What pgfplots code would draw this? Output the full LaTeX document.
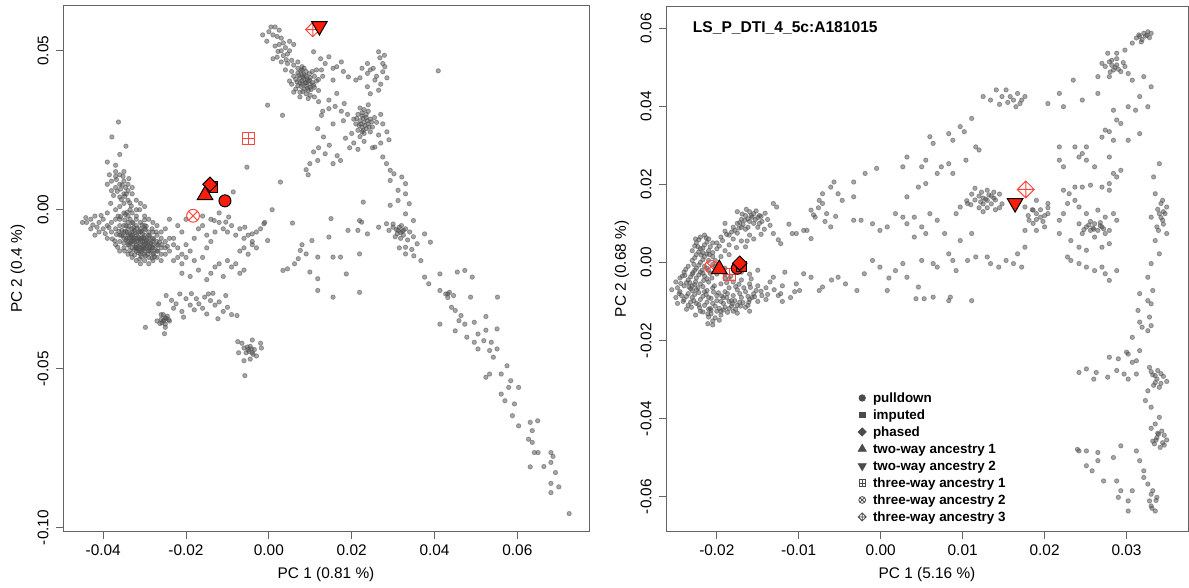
\documentclass[border=0pt]{standalone}
\usepackage{fontspec}
\setmainfont{Liberation Sans}
\usepackage{pgfplots}
\usepackage{pgfplotstable}
\pgfplotsset{compat=1.18}
\usetikzlibrary{plotmarks}

\definecolor{axcol}{RGB}{100,100,100}
\definecolor{gpt}{RGB}{80,80,80}
\definecolor{rred}{RGB}{250,30,10}
\definecolor{ored}{RGB}{255,70,60}
\definecolor{lgcol}{RGB}{75,75,75}

\pgfdeclareplotmark{sqplus}{%
 \pgfpathrectangle{\pgfqpoint{-\pgfplotmarksize}{-\pgfplotmarksize}}{\pgfqpoint{2\pgfplotmarksize}{2\pgfplotmarksize}}%
 \pgfpathmoveto{\pgfqpoint{-\pgfplotmarksize}{0pt}}\pgfpathlineto{\pgfqpoint{\pgfplotmarksize}{0pt}}%
 \pgfpathmoveto{\pgfqpoint{0pt}{-\pgfplotmarksize}}\pgfpathlineto{\pgfqpoint{0pt}{\pgfplotmarksize}}%
 \pgfusepathqstroke}
\pgfdeclareplotmark{diaplus}{%
 \pgfpathmoveto{\pgfqpoint{0pt}{\pgfplotmarksize}}\pgfpathlineto{\pgfqpoint{\pgfplotmarksize}{0pt}}%
 \pgfpathlineto{\pgfqpoint{0pt}{-\pgfplotmarksize}}\pgfpathlineto{\pgfqpoint{-\pgfplotmarksize}{0pt}}\pgfpathclose
 \pgfpathmoveto{\pgfqpoint{-\pgfplotmarksize}{0pt}}\pgfpathlineto{\pgfqpoint{\pgfplotmarksize}{0pt}}%
 \pgfpathmoveto{\pgfqpoint{0pt}{-\pgfplotmarksize}}\pgfpathlineto{\pgfqpoint{0pt}{\pgfplotmarksize}}%
 \pgfusepathqstroke}
\pgfdeclareplotmark{circtimes}{%
 \pgfpathcircle{\pgfpointorigin}{\pgfplotmarksize}%
 \pgfpathmoveto{\pgfqpoint{-.7071\pgfplotmarksize}{-.7071\pgfplotmarksize}}\pgfpathlineto{\pgfqpoint{.7071\pgfplotmarksize}{.7071\pgfplotmarksize}}%
 \pgfpathmoveto{\pgfqpoint{-.7071\pgfplotmarksize}{.7071\pgfplotmarksize}}\pgfpathlineto{\pgfqpoint{.7071\pgfplotmarksize}{-.7071\pgfplotmarksize}}%
 \pgfusepathqstroke}
\pgfdeclareplotmark{rdiamond*}{%
 \pgfpathmoveto{\pgfqpoint{0pt}{\pgfplotmarksize}}\pgfpathlineto{\pgfqpoint{\pgfplotmarksize}{0pt}}%
 \pgfpathlineto{\pgfqpoint{0pt}{-\pgfplotmarksize}}\pgfpathlineto{\pgfqpoint{-\pgfplotmarksize}{0pt}}\pgfpathclose
 \pgfusepathqfillstroke}
\pgfdeclareplotmark{dtriangle*}{%
 \pgfpathmoveto{\pgfqpoint{0pt}{-\pgfplotmarksize}}\pgfpathlineto{\pgfqpoint{.866\pgfplotmarksize}{.5\pgfplotmarksize}}%
 \pgfpathlineto{\pgfqpoint{-.866\pgfplotmarksize}{.5\pgfplotmarksize}}\pgfpathclose
 \pgfusepathqfillstroke}

% ---------------- left panel grey points (units of 1e-3) ----------------
\pgfplotstableread[row sep=\\]{
x y\\
-36 -3\\-35 -5\\-34 -4\\-33 -6\\-32 -5\\-31 -7\\-30 -6\\-29 -8\\-28 -9\\-27 -10\\
-35 -7\\-34 -8\\-33 -9\\-32 -10\\-31 -9\\-30 -11\\-29 -10\\-28 -12\\-27 -13\\-26 -12\\
-34 -11\\-33 -12\\-32 -13\\-31 -12\\-30 -14\\-29 -13\\-28 -14\\-33 -7\\-32 -8\\-31 -10\\
-30 -8\\-29 -12\\-28 -11\\-34 -6\\-35 -9\\-36 -8\\-37 -6\\-36 -10\\-33 -10\\-32 -11\\
-31 -14\\-30 -13\\-29 -15\\-27 -11\\-26 -14\\-25 -12\\-31 -6\\-30 -9\\-29 -7\\-33 -4\\
-32 -3\\-34 -2\\-35 -1\\-33 -1\\-32 -2\\-31 -4\\-30 -5\\-28 -7\\-27 -8\\-26 -9\\
-36 -5\\-37 -3\\-38 -4\\-39 -5\\-40 -3\\-41 -4\\-42 -2\\-43 -3\\-44 -4\\-40 -6\\
-38 -7\\-39 -1\\-37 0\\-36 1\\-35 2\\-34 3\\-35 5\\-36 4\\-34 6\\-33 5\\
-37 7\\-36 8\\-35 9\\-34 8\\-33 7\\-38 6\\-36 11\\-35 12\\-32 3\\-31 2\\
-41 -7\\-43 -6\\-45 -4\\-42 -8\\-39 -9\\-37 -11\\-36 -13\\-35 -12\\-34 -14\\-33 -15\\
-32 -16\\-31 -17\\-30 -16\\-29 -17\\-28 -16\\-27 -15\\-26 -16\\-25 -14\\-24 -13\\-25 -10\\
-24 -9\\-23 -11\\-26 -7\\-25 -6\\-27 -5\\-30 -2\\-29 -3\\-28 -4\\-32 0\\-30 1\\
-38 9\\-39 8\\-37 12\\-36.3 27.6\\-37.9 22.9\\-34.5 20\\-36 17.4\\-39 15\\-37 14\\-38.5 11\\
-33.5 -7.5\\-32.5 -6.5\\-31.5 -8.5\\-30.5 -7.5\\-29.5 -9.5\\-28.5 -10.5\\-31.5 -11.5\\-30.5 -10\\-32.5 -9.5\\-29.5 -11.5\\
-33.5 -10.5\\-34.5 -9.5\\-30.5 -12.5\\-31.5 -13.5\\-28.5 -13\\-27.5 -12.5\\-32.5 -12.5\\-34.5 -5\\-35.5 -6.5\\-33.5 -3\\
-34.2 -7.2\\-33.2 -8.2\\-32.2 -7.2\\-31.2 -9.2\\-30.2 -8.8\\-29.2 -10.8\\-28.2 -11.8\\-33.8 -11.2\\-32.8 -10.8\\-31.8 -12.2\\
-30.8 -13.2\\-29.8 -12.2\\-28.8 -12.8\\-27.8 -13.8\\-35.2 -8.2\\-36.2 -6.8\\-34.8 -3.2\\-33.8 -5.2\\-32.8 -4.2\\-31.8 -5.8\\
-30.8 -6.8\\-29.8 -6.2\\-28.8 -8.2\\-27.8 -9.2\\-26.8 -11.2\\-35.8 -2.2\\-34.2 -0.8\\-33.2 1.2\\-34.8 4.2\\-35.8 6.5\\
-36.8 9.5\\-35.2 10.5\\-33.8 9.8\\-37.5 4.5\\-38.2 2\\-40.5 -1.8\\-42.5 -4.8\\-44.2 -2.5\\-41.5 -5.5\\-39.5 -7.5\\
-37.8 -9.2\\-36.5 -11.8\\-34.8 -13\\-33.2 -13.8\\-31.2 -15.5\\-29.8 -14.5\\-28.2 -15.2\\-26.8 -13\\-25.8 -11\\-24.5 -11.5\\
-31 -11\\-32 -9\\-30 -10\\-33 -8\\-29 -9\\-31.5 -7\\-30.5 -11.5\\-32 -12\\-28 -10\\-34 -10\\
-33.7 -8.8\\-32.7 -8.8\\-31.7 -9.8\\-30.7 -9\\-29.7 -10.5\\-28.7 -11.5\\-32.2 -11.8\\-31.2 -12.8\\-30.2 -12\\-33.2 -9.8\\
-34.2 -9\\-35 -10.5\\-35.6 -8\\-34.6 -6.8\\-32.6 -5.6\\-30.6 -4.8\\-29.6 -5.2\\-28.2 -6\\-27.2 -7\\-26.4 -10.2\\
-33.6 -12.8\\-32.4 -14.2\\-30.8 -14.8\\-29.2 -14\\-27.6 -14.8\\-36.8 -7.8\\-37.2 -9.8\\-38.6 -5.6\\-36.4 -2\\-34.6 -1.5\\
-33.6 2.2\\-35.6 3.2\\-34.4 5\\-36.6 5.8\\-34.6 7\\-35.4 7.8\\-37 10.5\\-33.5 0\\-31.2 0\\-30 -3.2\\
-24 -3\\-22 -5\\-21 -7\\-23 -9\\-22 -12\\-21 -14\\-22 -15\\-23 -16\\-20 -15\\-21 -17\\
-19 -13\\-20 -11\\-18 -9\\-17 -6\\-16 -5\\-15 -8\\-14 -10\\-15 -12\\-13 -7\\-12 -4\\
-11 -6\\-10 -7\\-9 -5\\-8 -8\\-7 -6\\-6 -9\\-5 -8\\-4 -10\\-3 -7\\-2 -6\\
-1 -4\\-6 -12\\-5 -14\\-7 -13\\-8 -17\\-9 -18\\-10 -16\\-12 -17\\-13 -18\\-14 -20\\
-15 -22\\-11 -21\\-7 -20\\-6 -19\\-17 -19\\-19 -21\\-21 -20\\-18 -16\\-16 -15\\-4 -11\\
-3 -12\\-14 -3\\-16 -2\\-12 -1\\-20 -3\\
-25 -34\\-26 -34.5\\-25.5 -35\\-24.5 -33.5\\-25 -36\\-26 -33\\-24 -35\\-25.5 -33\\-27 -35\\-25 -37\\
-29.8 -37\\-25.2 -39\\-23 -31\\-22.4 -29.6\\-21 -32\\-20.6 -33.8\\-19 -30\\-18.7 -26.4\\-17.5 -28\\-16.9 -29.6\\
-16 -31\\-15 -32.8\\-14.1 -28.6\\-14.6 -26.5\\-13 -30\\-12.3 -34.3\\-11 -32\\-10.4 -27\\-10 -30.7\\-9 -33\\
-7.7 -33.3\\-24.8 -27\\-21.5 -26.5\\-26.6 -29.6\\-23.5 -28.5\\-20 -28\\-18 -31.5\\-15.5 -27.5\\-13.5 -26.3\\-12 -29\\
-25.3 -34.8\\-24.8 -34.2\\-25.8 -35.6\\-24.2 -34.6\\-26.3 -35.8\\
-5 -44\\-4.5 -43\\-4 -45\\-5.5 -45\\-6 -43.5\\-3.5 -44\\-2 -42\\-1.8 -43.5\\-3 -46\\-4.5 -47\\
-6.5 -42\\-4 -41\\-6 -47.5\\-5.8 -52.2\\-7.5 -41.5\\-7.3 -45\\-4.8 -44.6\\-4.2 -43.8\\-5.2 -43.2\\-3.8 -45.5\\
0.5 57.5\\1.5 57.5\\2.5 56.5\\0 56\\1 55\\2 54.5\\3 54\\3.5 52.5\\2.5 52\\1.5 51.5\\
4 51\\5 50\\4.5 49\\3.5 48.5\\2 48\\1 47.5\\3 46.5\\4.5 46\\6 45.5\\5.5 47\\
7 46.5\\8 45\\-1.5 55\\-0.5 53\\5 53\\6 52\\
7 43\\8 42.5\\9 42\\10 41.5\\8.5 41\\9.5 40.5\\7.5 40\\8 39.5\\9 39\\10 38.5\\
6.5 41\\7 39\\8.5 38\\9.5 37.5\\10.5 40\\11 42\\10.5 43.5\\9 43.5\\8 44\\6 42\\
6.5 38\\7.5 37\\9 36.5\\10 36\\11 38.5\\8 40.5\\9 40\\8.5 42.5\\7.5 41.5\\10 39.5\\
7 44.5\\11.5 44\\12 41\\5.5 39.5\\6 37\\7.5 35.5\\9.5 35\\11 35.5\\12 37.5\\5 40.5\\
8.2 41.8\\9.2 41.2\\8.8 39.8\\9.8 40.8\\7.8 38.8\\10.2 37.8\\8.2 37.2\\7.2 42.2\\9.8 42.8\\10.8 39.2\\
8.5 44.5\\6.8 40.2\\11.5 40.5\\9.3 38.2\\7.7 43.6\\4 44\\5.5 43.5\\3 50\\2.2 49.8\\4.2 47.2\\
10.8 49.7\\12.5 47.5\\13.6 46\\14.5 48.1\\15.5 44.5\\16.4 45\\17.5 46.5\\19.2 41.8\\12.7 44\\15.5 40.8\\13 42\\18 43.5\\
26.5 49.7\\27.5 46\\23.8 46\\21 40.8\\23.8 38.7\\27.5 43.4\\25.6 40.8\\23.8 42.9\\26.5 37.6\\27.9 48.6\\
25.2 44.5\\26.8 47.8\\24.5 44\\22.5 44.5\\28 45\\26 42\\22 41.5\\24.5 36.5\\27 39.5\\28.5 41.5\\
22 32\\23 31.5\\24 31\\21.5 30\\22.5 29.5\\23.5 29\\24.5 28.5\\22 28\\23 27.5\\24 27\\
21 27\\22.5 26\\23.5 25.5\\25 26\\21.5 25\\23 24\\24.5 24.5\\22 23\\20 24\\25.5 29\\
26 27.5\\20.5 28.5\\24 33\\19 30\\18 28\\17.5 31\\16 32.5\\14.5 34.5\\13 31\\15.5 27\\
26.5 23.5\\27 21\\23 21.5\\20.5 21\\19.5 19.5\\21.5 19\\18.5 22.5\\25 19.5\\12 34\\
22.5 30.5\\23.5 30\\22.8 28.8\\23.8 28\\22.2 27\\24.2 26\\22.8 25\\21.8 26.5\\23.2 26.5\\24.8 27.6\\
21.2 28.7\\22.5 24.5\\
16.4 36.6\\18.2 33.4\\14.5 31.8\\12.7 29.7\\
11.8 25.5\\13.2 22.9\\10.8 18.2\\12 19.5\\13.6 17.6\\15.5 14.5\\9 12.6\\9.9 14.5\\17.3 15.5\\14.6 20.3\\11.8 15.5\\16.5 17\\9.5 11\\
25.6 19.7\\27.5 16.6\\28.4 14.5\\29.3 12.4\\30.2 11.3\\32.1 10.3\\33 8.2\\29.3 9.2\\31.2 6.1\\33 5\\
31.2 2.9\\33.9 1.9\\29.3 1.4\\33 -1.3\\34.9 -3.4\\27.5 27\\28.5 24.5\\29 22\\27 30\\
31.2 -6.5\\30 -5.5\\32 -5\\33 -6\\31 -7.5\\32.5 -8\\30.5 -8.5\\29 -6.5\\34 -7\\31.8 -9\\
33.5 -9.5\\30 -4.5\\28.4 -4.4\\34.9 -8.5\\32.2 -6.8\\31.8 -7.2\\30.8 -6.2\\32.5 -6.5\\31.5 -5.5\\
33 -11.8\\35.8 -10.7\\37.6 -7.6\\39 -10.2\\33 -13.9\\36.7 -16\\37.6 -21.2\\34.5 -12.5\\35 -14.5\\31.5 -12\\
41.3 -20.2\\45.5 -19.6\\47.3 -19.1\\49.1 -21.2\\43.2 -26.5\\38.6 -23.3\\48.7 -27.5\\55.2 -27.5\\
41.3 -25.4\\42.7 -26.5\\43.6 -26\\44.6 -27\\43.2 -27.6\\44.1 -30.7\\41.3 -36\\45 -31.7\\46.4 -33.3\\45.9 -34.9\\
47.3 -36\\45 -38.1\\49.6 -35.4\\52.4 -33.6\\50.5 -39.1\\52.4 -37.9\\47.8 -40.1\\49.6 -41.7\\50.5 -43.8\\51.9 -41.2\\
53.7 -41.7\\53.3 -44.3\\55.1 -43.8\\55.1 -37.5\\54.2 -46.4\\52.4 -52.7\\53.3 -51.7\\56.1 -51.7\\57.5 -49.1\\58.4 -53.8\\
60.3 -55.9\\57.9 -55.9\\56.1 -58\\57 -60.1\\59.3 -61.1\\58.8 -64.8\\60.3 -68\\63.1 -66.9\\64.9 -66.4\\63.6 -69.5\\
62.7 -72.2\\63.6 -73.2\\64.1 -76.4\\65 -76.4\\63.1 -80.9\\66.4 -80.8\\68.1 -76.4\\68.6 -77.6\\68.1 -79.5\\69.2 -82.7\\
68.1 -86.1\\70 -87.2\\68.1 -89\\72.5 -95.6\\
5.7 -4.2\\7.6 -12.8\\7.1 -15.4\\9 -13.9\\10.4 -9.7\\11.8 -14.9\\6.2 -17\\9.9 -19.6\\11.8 -21.7\\15 -2.8\\
15.5 -14.9\\17.3 -14.9\\18.7 -20.2\\21.9 -13.9\\21.9 -3.4\\19.1 -6.5\\3.4 -19.1\\4.5 -18.6\\22.8 2.4\\21.5 -6.5\\
26.5 -5.5\\14.5 -8.6\\11.8 -25.4\\15.5 -27.5\\21.9 -26\\22.4 -3.9\\23.8 -7.6\\8 -11\\
-5.3 13.4\\2.8 8.7\\-8.6 5.6\\0.8 0\\-0.3 32.9\\3.3 29.7\\40.9 43.7\\-9.7 -2.3\\-13.2 -3.4\\-10.4 -3.9\\
-1.2 -4.4\\-5.8 -5.5\\-4 -7.6\\-0.3 -9.7\\
}\leftgrey

% ---------------- right panel grey points (units of 1e-3) ----------------
\pgfplotstableread[row sep=\\]{
x y\\
-22 6.5\\-21.5 7\\-21 6\\-22.5 5\\-21.5 4.5\\-20.5 5\\-22 3.5\\-23 3\\-21 3\\-20 3.5\\
-22.5 2\\-21.5 1.5\\-20.5 1.5\\-23 0.5\\-22 0\\-21 0.5\\-23.5 -1\\-22.5 -1.5\\-21.5 -1\\-20.5 -0.5\\
-24 -2.5\\-23 -3\\-22 -2.5\\-21 -2\\-24.5 -4\\-23.5 -4.5\\-22.5 -4\\-21.5 -3.5\\-24 -6\\-23 -6\\
-22 -5.5\\-21 -5\\-24.5 -7.5\\-23.5 -8\\-22.5 -7\\-21.5 -7.5\\-20.5 -6.5\\-24 -9.5\\-23 -9\\-22 -9.5\\
-21 -9\\-20 -8.5\\-23.5 -11\\-22.5 -10.5\\-21.5 -11\\-20.5 -10.5\\-19.5 -10\\-22 -12.5\\-21 -12\\-20 -12.5\\
-21 -14\\-20.5 -15\\-19.5 -13.5\\-25 -5\\-25.5 -7\\-25 -9\\-24.8 -10.5\\-23.7 -12\\
-22.3 4\\-21.7 2.5\\-22.8 -0.5\\-21.8 -2\\-23.3 -5.2\\-22.3 -6.5\\-21.3 -8.2\\-22.8 -9.8\\-20.8 -11.8\\-23 -7.2\\
-22.2 5.8\\-21.2 5.2\\-22.7 4.2\\-21.7 3.7\\-22.2 2.7\\-21.2 2.2\\-22.7 1.2\\-21.7 0.7\\-22.2 -0.7\\-21.2 -1.5\\
-22.7 -2\\-21.7 -2.8\\-23.2 -3.7\\-22.2 -3.2\\-21.2 -4.2\\-23.7 -5.2\\-22.7 -5.7\\-21.7 -6.2\\-23.2 -6.7\\-22.2 -7.7\\
-21.2 -7.2\\-23.7 -8.7\\-22.7 -8.2\\-21.7 -8.7\\-20.7 -9.2\\-23.2 -10.2\\-22.2 -10.8\\-21.2 -10.2\\-20.2 -11.2\\-21.7 -12.7\\
-20.7 -13.2\\-19.7 -11.8\\-20.2 -14.2\\-19.2 -12.2\\-18.2 -11.2\\-17.2 -10.2\\-16.2 -8.7\\-15.2 -7.2\\-17.7 -6.2\\-18.7 -8\\
-17.2 -8\\-16.7 -6.5\\-15.7 -9\\-18.2 -9.8\\-19.2 -9\\-16.2 -11\\-17.7 -12\\-18.7 -12.8\\-19.7 -14.8\\-20.7 -12.2\\
-17.2 10.2\\-16.2 11.2\\-15.8 12\\-16.8 9.7\\-17.8 8.2\\-18.8 7.2\\-15.3 11\\-16.2 9\\-14.8 10\\-19.7 4.2\\
-20.5 2.5\\-20.2 0.5\\-19.5 1.5\\-18.5 2\\-24.2 -3.5\\-24.8 -6.5\\-24.3 -8.5\\-20 -2\\-19 -3\\-18.5 -4.2\\
-23.8 -1.8\\-22.9 -2.6\\-23.9 -3.3\\-22.6 -5\\-21.6 -4.6\\-20.6 -4\\-20.8 -2.8\\-23.4 -6.3\\-24.4 -5.4\\-24.6 -8\\
-24.1 -10\\-23.1 -11.5\\-22.1 -11.6\\-21.1 -13.2\\-22.6 -13.5\\-19.2 -10.5\\-18.1 -10.6\\-17.1 -11.2\\-16.1 -10.2\\-15.4 -8.8\\
-14.6 -7.4\\-13.8 -8.2\\-15.9 -6.4\\-17.3 -5.6\\-18.8 -5.2\\-20.3 -6\\-20.4 -7.6\\-19.4 -8.6\\-20 -9.8\\-18.5 -11.8\\
-18.2 7.8\\-17.3 8.8\\-16.6 10.8\\-15.7 11.6\\-16.9 12.4\\-19.3 5.6\\-20.8 4\\-21.3 6.3\\-22.6 6\\-20.9 2\\
-14.6 11.8\\-15.2 13.2\\-16.4 13.6\\-14.1 12.6\\-13.5 9.5\\-14.6 7.2\\-16.3 5.5\\-17.6 3.8\\-20.2 -1\\-21.9 1.9\\
-20 5\\-19.5 6.5\\-19 8\\-18.5 7\\-18 9\\-17.5 10\\-17 11\\-16.5 12\\-16 13\\-15.5 12.5\\
-15 11.5\\-16 10.5\\-17 9\\-18 6\\-17.5 7.5\\-16.5 8.5\\-15.5 10\\-14.8 12\\-15 9\\-14.5 10.5\\
-16 7\\-17 5.5\\-18.5 4.5\\-19 3\\-16.5 4\\-15.5 6\\-14.2 8.5\\-13.8 11\\-17.5 13\\-19 10\\
-20 -3\\-19 -4\\-18 -5\\-17 -4.5\\-16 -5.5\\-15 -6\\-14 -6.5\\-19.5 -5.5\\-18.5 -6.5\\-17.5 -7\\
-16.5 -7.5\\-15.5 -8\\-14.5 -8.5\\-19 -7.5\\-18 -8.5\\-17 -9\\-16 -9.5\\-15 -10\\-18.5 -10\\-17.5 -11\\
-16.5 -11.5\\-19 -11.5\\-18 -12.5\\-14 -9.5\\-13 -7\\-13.5 -5\\-12.5 -8.5\\-12 -6\\-17 -2.5\\-16 -3\\
-15 -2\\-18 -1.5\\-19 -1.5\\-17.5 -13\\-16 -12.5\\-19.5 -12.5\\-20.5 -16\\-12 -10\\-11 -9\\-10.5 -7.5\\
-18.8 -9\\-17.8 -9.8\\-16.8 -10.3\\-19.8 -7.8\\-18.3 -3.5\\-15.8 -4.2\\-12.2 -8\\-9.9 -7.2\\-7.5 -7.2\\-21.1 -15.7\\
-13.1 -3.8\\-11.7 -2.5\\-10.3 -5.5\\-9.4 -2.9\\-8.5 -3.8\\-7.1 -6.3\\-5.2 -3.8\\-4.3 -5.5\\-2.9 -7.2\\-2 -2.9\\
-1 0.5\\-0.1 -1.2\\1.8 -2.1\\2.7 -0.3\\3.2 -3.8\\5 0.5\\6.4 -0.3\\6.9 -1.2\\8.3 2.2\\8.8 0.5\\
9.2 -2.1\\10.6 0.5\\11.6 1.4\\13 1.4\\13.4 -0.3\\14.4 -1.2\\15.3 0.5\\16.2 -0.3\\16.7 2.2\\17.2 -1.2\\
6.4 -8.9\\8.3 -9.8\\4.6 -6.3\\0.8 -7.2\\4.3 -9.3\\5.3 -9.3\\8.5 -8.9\\11.1 -9.8\\-6 -4.5\\1 -4\\
-13.1 7.4\\-12.2 4.8\\-10.3 7.4\\-9.4 8.2\\-8.5 13.4\\-8 11.6\\-7.5 15.9\\-7.1 17.6\\-6.1 19.3\\-5.7 20.6\\
-6.6 12.5\\-6.1 9.1\\-5.2 17.6\\-4.7 15.9\\-3.3 10.8\\-2.4 10.8\\-1 9.9\\-0.1 8.2\\0.8 9.1\\1.8 12.5\\
2.7 11.6\\3.2 9.9\\4.1 11.6\\5 9.1\\6 12.5\\6.9 10.8\\7.8 7.4\\9.2 12.5\\9.7 14.2\\10.6 15.1\\
3.2 16.8\\4.6 19.3\\5.5 20.2\\6.9 22.8\\7.4 24.5\\5 24.5\\2.7 24.5\\-0.5 24.1\\-3.3 20.6\\-1.9 22.8\\
-13.1 15.1\\-12.7 14.2\\-10.8 7.4\\-9 8.2\\-8.5 6.1\\-7.1 15.1\\-3.3 16.8\\5.5 7.4\\4.1 6.5\\11.1 7.4\\9.7 5.6\\
-8.2 12.2\\-7.6 14\\-6.8 10.5\\-5.5 11.8\\-12.5 5.8\\-11.2 9.8\\
3.2 27\\6 32.2\\6.4 30.5\\8.3 33\\8.8 31.3\\9.7 34.8\\10.2 33.5\\11.1 36.9\\12.5 42.5\\13.4 41.6\\
14.1 44.2\\14.8 42.5\\15.3 44.2\\15.8 42.5\\16.2 41.6\\16.7 43.3\\17.2 41.6\\17.6 42.5\\16.5 39.9\\17 40.7\\
11.6 29.6\\12 28.8\\5.5 26.2\\8.8 22.8\\8.3 25.3\\10.4 26.2\\15.5 41\\14.5 40.5\\
13 15.9\\12 17\\12.5 16.5\\13.5 17\\14 16\\13.5 15\\12.5 15\\11.5 16\\14.5 17.5\\14.8 15\\
11.1 17.5\\12 14\\13 14\\14 13.5\\11.5 19\\13 18.5\\12.5 13\\14.5 14\\11 14.8\\13.8 18\\12.3 18\\10.5 15.8\\
12.8 16.2\\13.2 17.3\\12.2 15.5\\13.8 16.5\\
19 12.5\\18.5 13.5\\19.5 13.5\\18 12\\20 12\\19 11\\20.4 14\\17.6 14.2\\18.6 10\\19.8 10.5\\
18.6 13.4\\19.5 11.6\\20.4 12.5\\20 9.1\\19 8.2\\18.1 10.8\\17.6 8.2\\20.4 15.1\\19 15.9\\17.6 3.9\\21.8 10.8\\
22.3 18.5\\23 17.6\\23.7 19.3\\24.6 19.3\\25.6 19.8\\27 19.3\\27.9 18.5\\22.8 15.1\\23.7 15.9\\24.2 14.2\\
25.1 12.5\\26.5 13.4\\27.4 11.6\\28.4 12.5\\28.8 10.8\\24.2 9.9\\25.1 9.1\\25.6 8.2\\26.1 9.9\\26.5 8.2\\
27 9.1\\27.4 7.4\\27.9 8.2\\24.6 7.4\\26.1 6.5\\24.2 3.9\\25.1 3.1\\27 3.9\\27.9 4.8\\22.8 1.4\\
23.2 0.5\\24.2 -0.3\\25.1 -1.2\\26.1 -2.1\\27 -1.2\\27.4 -2.9\\27.9 -4.6\\28.8 -2.1\\22.3 12.5\\21.8 7.4\\
23.2 5.6\\25.6 10.5\\26.8 10.2\\25.9 8.8\\26 8.5\\26.8 9.4\\25.4 9.6\\27.2 8.6\\24.8 8.4\\
22.3 24.5\\21.8 26.2\\23.7 29.6\\24.6 27.9\\25.1 26.2\\26.1 24.5\\27.9 20.2\\28.4 22.8\\28.8 21.9\\29.3 23.6\\
32.1 58.7\\30.7 56.2\\31.6 57.9\\32.6 59.1\\33 58.7\\31.9 57.1\\29.8 54.4\\28.8 53.6\\32.3 58\\31.2 57.5\\
31.5 58.3\\32.5 58.2\\31.8 56.5\\32.8 57.6\\28.2 51.8\\28.6 50\\29.6 51.2\\28 48.8\\
27 51\\27.9 51.4\\28.8 50.6\\28.4 49.3\\29.3 48.9\\29.8 50.2\\27.4 50.2\\27.9 47.6\\30.2 48.4\\30.7 46.7\\
26.5 47.6\\27.7 53.6\\28.8 52.2\\28.2 50.5\\29 49.5\\
32.1 47.6\\33 45\\31.6 42.5\\30.2 39.9\\31.1 39\\32.6 39.9\\28.4 39\\26.5 43.3\\27 32.1\\27.4 33.9\\
27.9 33.5\\28.4 31.3\\28.8 36.5\\29.3 35.6\\30.2 31.3\\31.6 33\\27.9 27\\25.1 29.6\\24.2 27\\23.5 46.7\\24.6 41.6\\
34 25.3\\33.5 17.6\\34.4 15.9\\34.9 14.2\\34 12.5\\34.4 10.8\\33.7 9.1\\34.9 7.4\\33.5 5.6\\33 11.6\\
34.2 15.1\\34.7 12.5\\34 2.2\\33 -0.3\\32.6 -3.8\\33.2 -7.2\\31.6 -8\\33.3 21.9\\34.5 9.8\\33.8 13.6\\
34.2 11.5\\34.5 13\\33.9 8.2\\
32.6 -9.8\\33 -10.6\\31.4 -12.3\\32.8 -14\\31.9 -16.6\\30.7 -19.2\\32.6 -17.5\\31.6 -22.6\\30.2 -23.5\\32.8 -26.9\\
31.2 -25.2\\33.7 -29.9\\33 -28\\34.2 -28.5\\34.9 -30.5\\33.3 -31.5\\34 -32\\33.8 -27.7\\34.5 -29.2\\33.5 -30.8\\
33.5 -29\\34.2 -31\\33.2 -28.8\\
32.6 -32.9\\32.3 -35.4\\33 -37.1\\34 -39.7\\33.5 -41.4\\
33.7 -44.9\\33 -42.5\\34.3 -43.2\\34.9 -45.5\\33.4 -46.5\\34.1 -47.4\\33.8 -43.8\\34.6 -44.3\\33.2 -45.8\\34.4 -46.2\\
33.9 -44\\34.6 -46.8\\33.6 -45.5\\
31.6 -50.8\\32.1 -53.4\\32.1 -55.1\\32.6 -56.8\\33 -59.4\\32.8 -61.1\\33 -62.4\\33.5 -63.7\\33.2 -58.5\\33.7 -60.2\\
33.6 -61\\33.1 -63\\
29.3 -58.5\\30.2 -61.1\\29 -60.2\\30.2 -63.7\\30.7 -58.5\\28.8 -56\\27.2 -56\\25.8 -53.4\\25.1 -52.1\\26.5 -50.8\\
24.2 -48.3\\25.1 -48.3\\26.5 -48.7\\29.3 -47\\28.4 -50\\31.2 -48.3\\24 -47.9\\
24.2 -28.2\\25.1 -27.3\\26.3 -28.2\\26 -29.9\\27.7 -29.4\\27.9 -24.3\\29 -24.7\\28.8 -27.7\\29.7 -28.6\\30.2 -29.9\\
31.2 -28.6\\30.7 -25.6\\30 -23\\31.6 -15.3\\33 -16.2\\
21.8 29.6\\20.4 40.7\\22.3 39.9\\21.8 43.3\\
}\rightgrey

\pgfplotsset{
 common/.style={
  scale only axis, clip=false, scaled ticks=false,
  axis line style={draw=axcol, line width=0.5bp},
  tick style={draw=axcol, line width=0.5bp},
  tick pos=left, tick align=outside, major tick length=3.5bp,
  ticklabel style={font=\fontsize{7.7bp}{9bp}\selectfont, inner sep=0pt},
  xticklabel style={anchor=north, yshift=-3bp},
  yticklabel style={rotate=90, anchor=south, yshift=3.5bp},
  label style={font=\fontsize{7.7bp}{9bp}\selectfont, inner sep=0pt},
 },
 grey/.style={only marks, mark=*, mark size=1.1bp, color=gpt, opacity=0.5, forget plot},
 filled/.style={only marks, forget plot, mark options={fill=rred, draw=black, line width=0.5bp}},
 open/.style={only marks, forget plot, mark options={draw=ored, line width=0.5bp}},
}

\begin{document}
\begin{tikzpicture}
\useasboundingbox (0,0) rectangle (594.5bp,294bp);
% ================= left panel =================
\begin{axis}[common,
  at={(31.5bp,28.15bp)}, anchor=south west,
  width=263bp, height=262.85bp,
  xmin=-0.0497, xmax=0.0773, ymin=-0.1013, ymax=0.0641,
  xtick={-0.04,-0.02,0,0.02,0.04,0.06},
  xticklabels={-0.04,-0.02,0.00,0.02,0.04,0.06},
  ytick={-0.1,-0.05,0,0.05},
  yticklabels={-0.10,-0.05,0.00,0.05},
  xlabel={PC 1 (0.81 \%)}, ylabel={PC 2 (0.4 \%)},
  xlabel style={at={(axis description cs:0.5,-0.0822)}, anchor=center},
  ylabel style={at={(axis description cs:-0.0856,0.5)}, anchor=center},
]
\addplot[grey] table[x expr=\thisrow{x}/1000, y expr=\thisrow{y}/1000]{\leftgrey};
\addplot[open, mark=sqplus, mark size=3bp] coordinates {(-0.0050,0.0225)};
\addplot[open, mark=circtimes, mark size=3.2bp] coordinates {(-0.0183,-0.0019)};
\addplot[open, mark=diaplus, mark size=3.6bp] coordinates {(0.0106,0.0567)};
\addplot[filled, mark=*, mark size=3bp] coordinates {(-0.0106,0.0028)};
\addplot[filled, mark=square*, mark size=2.6bp] coordinates {(-0.0136,0.0072)};
\addplot[filled, mark=rdiamond*, mark size=3.6bp] coordinates {(-0.0142,0.0080)};
\addplot[filled, mark=triangle*, mark size=4.5bp] coordinates {(-0.0154,0.0046)};
\addplot[filled, mark=dtriangle*, mark size=4.5bp] coordinates {(0.0122,0.0578)};
\end{axis}
% ================= right panel =================
\begin{axis}[common,
  at={(333bp,28.15bp)}, anchor=south west,
  width=261bp, height=262.85bp,
  xmin=-0.0262, xmax=0.0375, ymin=-0.069, ymax=0.0657,
  xtick={-0.02,-0.01,0,0.01,0.02,0.03},
  xticklabels={-0.02,-0.01,0.00,0.01,0.02,0.03},
  ytick={-0.06,-0.04,-0.02,0,0.02,0.04,0.06},
  yticklabels={-0.06,-0.04,-0.02,0.00,0.02,0.04,0.06},
  xlabel={PC 1 (5.16 \%)}, ylabel={PC 2 (0.68 \%)},
  xlabel style={at={(axis description cs:0.5,-0.0822)}, anchor=center},
  ylabel style={at={(axis description cs:-0.0843,0.5)}, anchor=center},
  legend cell align=left,
  legend style={draw=none, fill=none, at={(rel axis cs:0.356,0.2755)}, anchor=north west,
    font=\bfseries\fontsize{6.7bp}{8bp}\selectfont, row sep=1.8bp,
    nodes={inner sep=0pt, text height=5.5bp, text depth=1.2bp},
    /tikz/every odd column/.append style={column sep=3.4bp}},
  legend image code/.code={\draw[#1, mark repeat=2, mark phase=2] plot coordinates {(0bp,0bp) (1.8bp,0bp) (3.6bp,0bp)};},
]
\addlegendimage{only marks, mark=*, mark size=1.6bp, lgcol}
\addlegendentry{pulldown}
\addlegendimage{only marks, mark=square*, mark size=1.4bp, lgcol}
\addlegendentry{imputed}
\addlegendimage{only marks, mark=rdiamond*, mark size=2bp, lgcol}
\addlegendentry{phased}
\addlegendimage{only marks, mark=triangle*, mark size=2.3bp, lgcol}
\addlegendentry{two-way ancestry 1}
\addlegendimage{only marks, mark=dtriangle*, mark size=2.3bp, lgcol}
\addlegendentry{two-way ancestry 2}
\addlegendimage{only marks, mark=sqplus, mark size=1.6bp, lgcol, mark options={line width=0.4bp}}
\addlegendentry{three-way ancestry 1}
\addlegendimage{only marks, mark=circtimes, mark size=1.7bp, lgcol, mark options={line width=0.4bp}}
\addlegendentry{three-way ancestry 2}
\addlegendimage{only marks, mark=diaplus, mark size=2bp, lgcol, mark options={line width=0.4bp}}
\addlegendentry{three-way ancestry 3}
\addplot[grey] table[x expr=\thisrow{x}/1000, y expr=\thisrow{y}/1000]{\rightgrey};
\addplot[open, mark=sqplus, mark size=3bp] coordinates {(-0.0184,-0.0032)};
\addplot[open, mark=circtimes, mark size=3.2bp] coordinates {(-0.0207,-0.0011)};
\addplot[open, mark=diaplus, mark size=4.2bp] coordinates {(0.0177,0.0187)};
\addplot[filled, mark=*, mark size=3bp] coordinates {(-0.0175,-0.0015)};
\addplot[filled, mark=square*, mark size=2.6bp] coordinates {(-0.0170,-0.0011)};
\addplot[filled, mark=rdiamond*, mark size=3.6bp] coordinates {(-0.0172,-0.0002)};
\addplot[filled, mark=triangle*, mark size=4.5bp] coordinates {(-0.0197,-0.0017)};
\addplot[filled, mark=dtriangle*, mark size=4.5bp] coordinates {(0.0164,0.0152)};
\node[anchor=west, inner sep=0pt, font=\bfseries\fontsize{7.8bp}{9bp}\selectfont] at (rel axis cs:0.0508,0.958) {LS\_P\_DTI\_4\_5c:A181015};
\end{axis}
\end{tikzpicture}
\end{document}
